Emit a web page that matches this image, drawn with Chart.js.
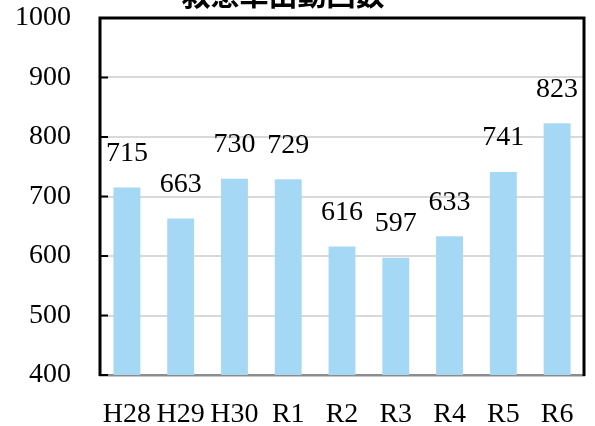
<!DOCTYPE html>
<html>
<head>
<meta charset="utf-8">
<script src="https://cdn.jsdelivr.net/npm/chart.js@4/dist/chart.umd.min.js"></script>
<style>
  html, body { margin: 0; padding: 0; background: #fff; }
  #c { display: block; }
</style>
</head>
<body>
<canvas id="c" width="595" height="426"></canvas>
<script>
const titleText = '救急車出動回数';
const years = ['H28', 'H29', 'H30', 'R1', 'R2', 'R3', 'R4', 'R5', 'R6'];
const counts = [715, 663, 730, 729, 616, 597, 633, 741, 823];
const yTicks = [400, 500, 600, 700, 800, 900, 1000];

const serif = '"Liberation Serif", "DejaVu Serif", serif';

// frame (left, top, right), inner tick marks, value labels and the clipped title
const extras = {
  id: 'extras',
  afterDraw(chart) {
    const { ctx, chartArea: a } = chart;
    const yScale = chart.scales.y;
    ctx.save();
    ctx.strokeStyle = '#000';
    ctx.lineWidth = 2;
    yTicks.forEach(v => {
      const y = yScale.getPixelForValue(v);
      ctx.beginPath();
      ctx.moveTo(a.left, y);
      ctx.lineTo(a.left + 8, y);
      ctx.stroke();
    });
    ctx.lineWidth = 3;
    ctx.beginPath();
    ctx.moveTo(a.left, a.bottom + 1);
    ctx.lineTo(a.left, a.top);
    ctx.lineTo(a.right, a.top);
    ctx.lineTo(a.right, a.bottom + 1);
    ctx.stroke();

    ctx.fillStyle = '#000';
    ctx.font = '28px ' + serif;
    ctx.textAlign = 'center';
    ctx.textBaseline = 'middle';
    chart.getDatasetMeta(0).data.forEach((bar, i) => {
      ctx.fillText(String(counts[i]), bar.x, bar.y - 34);
    });

    ctx.font = 'bold 29px "Noto Sans CJK JP", sans-serif';
    ctx.textBaseline = 'alphabetic';
    ctx.fillText(titleText, 283, 6);
    ctx.restore();
  }
};

new Chart(document.getElementById('c'), {
  type: 'bar',
  data: {
    labels: years,
    datasets: [{
      data: counts,
      backgroundColor: '#a4d8f4',
      barPercentage: 0.5,
      categoryPercentage: 1.0
    }]
  },
  options: {
    responsive: false,
    animation: false,
    layout: { autoPadding: false, padding: { top: 18, right: 11, bottom: 0, left: 0 } },
    plugins: { legend: { display: false }, tooltip: { enabled: false } },
    scales: {
      x: {
        afterFit: (s) => { s.height = 51; s.paddingLeft = 0; s.paddingRight = 0; },
        grid: { display: false },
        border: { color: '#8c8c8c', width: 2.5 },
        ticks: { color: '#000', font: { size: 28, family: serif }, padding: 15, maxRotation: 0, autoSkip: false }
      },
      y: {
        min: 400,
        max: 1000,
        afterBuildTicks: (s) => { s.ticks = yTicks.map(v => ({ value: v })); },
        afterFit: (s) => { s.width = 100; s.paddingTop = 0; s.paddingBottom = 0; },
        grid: { color: '#d9d9d9', lineWidth: 2, drawTicks: false },
        border: { display: false },
        ticks: { color: '#000', font: { size: 28, family: serif }, padding: 29, callback: (v) => String(v) }
      }
    }
  },
  plugins: [extras]
});
</script>
</body>
</html>
